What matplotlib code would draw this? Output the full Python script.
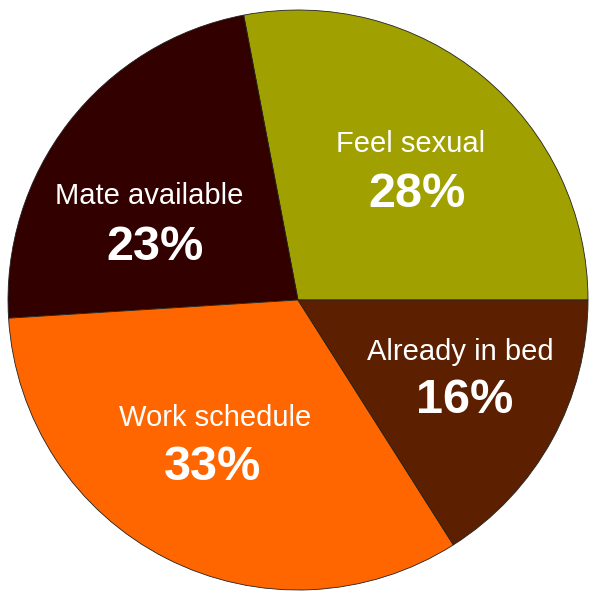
import matplotlib.pyplot as plt

# data, counterclockwise from 3 o'clock
labels = ["Feel sexual", "Mate available", "Work schedule", "Already in bed"]
shares = [28, 23, 33, 16]
colors = ["#A0A000", "#330000", "#FF6600", "#5C2000"]

# label anchors (pixels in the 600x602 reference), name / percent baselines
name_pos = [(411, 152), (149, 204), (215, 426), (460, 360)]
pct_pos = [(417, 207), (155, 260), (213, 480), (465, 413)]

CX, CY, R = 298, 300, 290

fig = plt.figure(figsize=(6.0, 6.02), dpi=100)
ax = fig.add_axes([(CX - R) / 600, (602 - CY - R) / 602, 2 * R / 600, 2 * R / 602])

ax.pie(shares, colors=colors, startangle=0, counterclock=True,
       wedgeprops=dict(edgecolor="#222222", linewidth=0.6))
ax.set_xlim(-1, 1)
ax.set_ylim(-1, 1)
ax.set_aspect("auto")
ax.axis("off")


def to_data(p):
    return (p[0] - CX) / R, (CY - p[1]) / R


for lab, v, npos, ppos in zip(labels, shares, name_pos, pct_pos):
    x, y = to_data(npos)
    ax.text(x, y, lab, color="white", fontsize=21, family="Liberation Sans",
            ha="center", va="baseline")
    x, y = to_data(ppos)
    ax.text(x, y, f"{v}%", color="white", fontsize=35, fontweight="bold",
            family="Liberation Sans", ha="center", va="baseline")

fig.savefig("out.png", dpi=100, facecolor="white")
